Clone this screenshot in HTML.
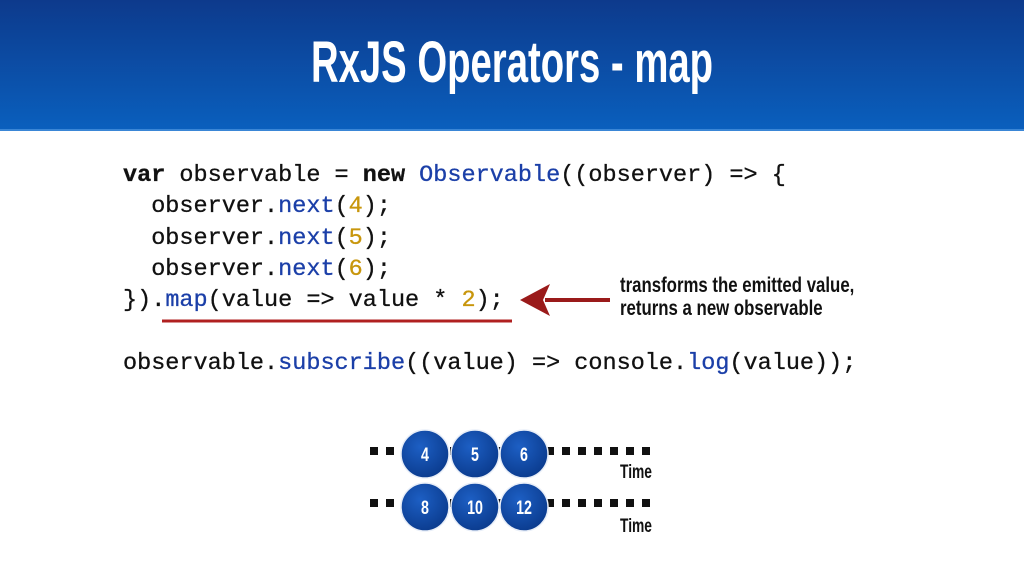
<!DOCTYPE html>
<html><head><meta charset="utf-8"><style>
body{margin:0;width:1024px;height:576px;overflow:hidden;background:#fff;position:relative;font-family:"Liberation Sans",sans-serif}
.hdr{position:absolute;left:0;top:0;width:1024px;height:129px;background:linear-gradient(#0d3a8c,#0a5fbd);border-bottom:2px solid #3a86d6}
.title{position:absolute;left:0;width:1024px;top:28px;text-align:center;color:#fff;font-weight:bold;font-size:58px;line-height:70px;transform:scaleX(0.66);}
pre{position:absolute;left:123px;top:160px;margin:0;font-family:"Liberation Mono",monospace;font-size:23.5px;line-height:31.3px;color:#111;-webkit-text-stroke:0.3px #111}
.k{font-weight:bold}.b{color:#1b3fa8;-webkit-text-stroke:0.3px #1b3fa8}.n{color:#c8960c;-webkit-text-stroke:0.3px #c8960c}
.note{position:absolute;left:620px;top:274px;font-weight:bold;font-size:21px;line-height:23px;color:#111;transform:scaleX(0.8);transform-origin:0 0;white-space:nowrap}
</style></head><body>
<div class="hdr"></div>
<div class="title">RxJS Operators - map</div>
<pre><span class="k">var</span> observable = <span class="k">new</span> <span class="b">Observable</span>((observer) =&gt; {
  observer.<span class="b">next</span>(<span class="n">4</span>);
  observer.<span class="b">next</span>(<span class="n">5</span>);
  observer.<span class="b">next</span>(<span class="n">6</span>);
}).<span class="b">map</span>(value =&gt; value * <span class="n">2</span>);

observable.<span class="b">subscribe</span>((value) =&gt; console.<span class="b">log</span>(value));</pre>
<div class="note">transforms the emitted value,<br>returns a new observable</div>
<svg style="position:absolute;left:0;top:0" width="1024" height="576">
<line x1="162" y1="321" x2="512" y2="321" stroke="#b02020" stroke-width="3"/>
<line x1="545" y1="300" x2="610" y2="300" stroke="#9a1a1a" stroke-width="4"/>
<polygon points="520,300 550,284 543,300 550,316" fill="#9a1a1a"/>
<line x1="370" y1="451" x2="652" y2="451" stroke="#111" stroke-width="8" stroke-dasharray="8,8"/>
<line x1="370" y1="503" x2="652" y2="503" stroke="#111" stroke-width="8" stroke-dasharray="8,8"/>
<defs><radialGradient id="g" cx="0.4" cy="0.35" r="0.7"><stop offset="0" stop-color="#1d5fc4"/><stop offset="1" stop-color="#0a3a8c"/></radialGradient></defs>
<g fill="url(#g)" stroke="#e8eef8" stroke-width="1.5">
<circle cx="425" cy="454" r="24"/><circle cx="475" cy="454" r="24"/><circle cx="524" cy="454" r="24"/>
<circle cx="425" cy="507" r="24"/><circle cx="475" cy="507" r="24"/><circle cx="524" cy="507" r="24"/>
</g>
<g fill="#fff" font-family="Liberation Sans" font-weight="bold" font-size="19" text-anchor="middle">
<text x="425" y="461" transform="translate(425 0) scale(0.75 1) translate(-425 0)">4</text>
<text x="475" y="461" transform="translate(475 0) scale(0.75 1) translate(-475 0)">5</text>
<text x="524" y="461" transform="translate(524 0) scale(0.75 1) translate(-524 0)">6</text>
<text x="425" y="514" transform="translate(425 0) scale(0.75 1) translate(-425 0)">8</text>
<text x="475" y="514" transform="translate(475 0) scale(0.75 1) translate(-475 0)">10</text>
<text x="524" y="514" transform="translate(524 0) scale(0.75 1) translate(-524 0)">12</text>
</g>
<g font-family="Liberation Sans" font-weight="bold" font-size="19" fill="#111" text-anchor="end">
<text x="652" y="478" textLength="32" lengthAdjust="spacingAndGlyphs">Time</text>
<text x="652" y="532" textLength="32" lengthAdjust="spacingAndGlyphs">Time</text>
</g>
</svg>
</body></html>
